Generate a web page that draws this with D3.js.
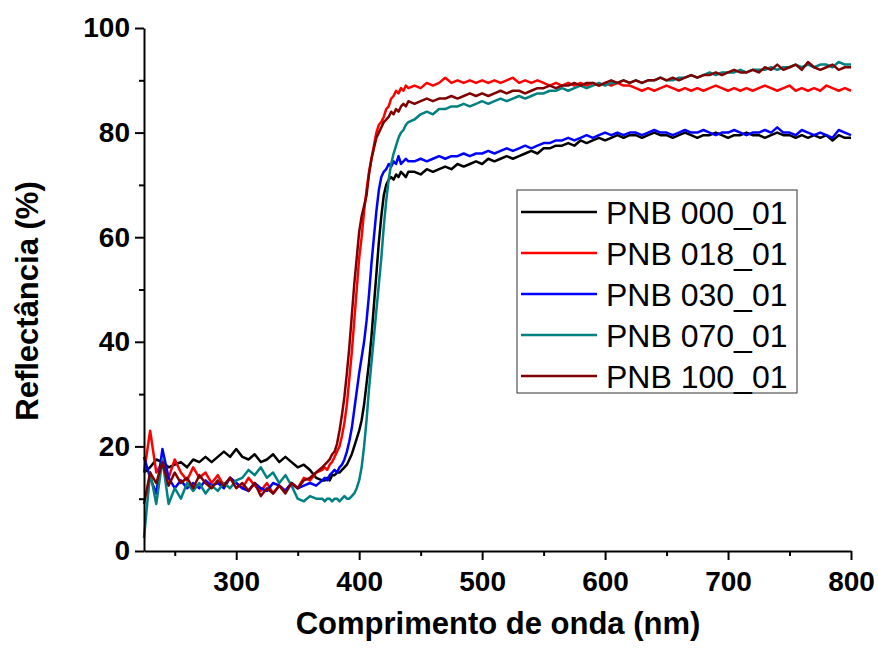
<!DOCTYPE html>
<html lang="pt">
<head>
    <meta charset="UTF-8">
    <script src="https://d3js.org/d3.v7.min.js"></script>
    <style>
        body { margin: 0; background: white; }
        text { font-family: "Liberation Sans", Arial, sans-serif; }
        .axis path, .axis line { stroke: black; stroke-width: 2; }
        .axis text { font-size: 28px; font-weight: bold; fill: black; }
    </style>
</head>
<body>
    <svg id="chart" width="878" height="650"></svg>

    <script>
        // comprimento de onda (nm)
        const wavelengths = [
            225,230,235,240,245,250,255,260,265,270,275,280,285,290,295,300,305,310,315,320,325,330,335,340,345,350,355,360,365,370,
            372,374,376,378,380,382,384,386,388,390,392,394,396,398,400,402,404,406,408,410,412,414,416,418,420,422,424,426,428,430,432,434,436,438,440,
            445,450,455,460,465,470,475,480,485,490,495,500,505,510,515,520,525,530,535,540,545,550,555,560,565,570,575,580,585,590,595,600,
            605,610,615,620,625,630,635,640,645,650,655,660,665,670,675,680,685,690,695,700,705,710,715,720,725,730,735,740,745,750,755,760,
            765,770,775,780,785,790,795,800
        ];

        const pnb000 = [
            15,16,17.5,17,16, 16.5,17,16,17.5,17, 18,17,18,19,18, 19.5,18,17.5,18.5,17, 17.5,18.5,17,18,17, 16,16.5,15.5,14,13.5,
            13.5,14,13.5,14.5,14.5, 15,15,15.5,16,16.5, 17.5,18.5,20,21.5,23, 25,28,32,36,41, 47,53,59,64,68, 70,71,71.5,71,72, 71.5,72.5,72,71.5,72.5,
            72.5,72,73,72.5,73, 73.5,73,74,73.5,74, 74.5,74,75,74.5,75, 75.5,75,75.5,76,76.5, 76,77,77,77.5,77.5, 78,77.5,78.5,78,78.5,
            79,78.5,79,79.5,79, 79.5,79.5,79,79.5,80, 79.5,79.5,79,79.5,80, 79.5,79,79.5,79.5,80, 79.5,79,79.5,79.5,80, 79.5,79.5,79,79.5,80,
            79.5,79.5,79,79.5,79, 79.5,79,79.5,78.5,79.5, 79,79
        ];
        const pnb018 = [
            15,23,15,17,14, 17.5,15,13.5,16,14, 15,13,14.5,12.5,14, 13,12,14,12.5,11.5, 13,11,12.5,11.5,13, 12,14,13.5,15,15.5,
            16,15.5,16.5,17,18, 19,20,22,24.5,28, 33,38,44,50,56, 60,65,69,72.5,75, 77.5,80,81.5,82,83, 84.5,85,86.5,87,88, 87.5,88.5,88,89,88.5,
            89,88.5,89.5,89,89.5, 90.5,89.5,90,89.5,90, 89.5,90,89.5,90,89.5, 90,90.5,89.5,90,89.5, 90,89.5,89,89.5,89, 89.5,89,89.5,89,89.5,
            89,89.5,89,89.5,89, 89,88.5,88,88.5,88, 88.5,89,88.5,88,88.5, 88,88.5,88,88.5,89, 88.5,88,88.5,88,88.5, 88,88.5,89,88.5,88,
            88.5,89,88,88.5,88, 88.5,88,89,88.5,88, 88.5,88
        ];
        const pnb030 = [
            18,14,11,19.5,14, 12,13.5,12,13,12, 13.5,12.5,13,12,14, 13,12,11.5,13,12, 11.5,13,12.5,11.5,13, 12,12.5,13,12.5,13.5,
            14,13.5,14.5,15,15.5, 15,16,16.5,17.5,19, 21,23.5,27,30.5,34, 37,40,44,49,55, 60,65,69,71.5,72.5, 73,74,73.5,74.5,74, 75.5,74,74.5,75,74.5,
            74.5,75,74.5,75,75.5, 75,75.5,75.5,76,75.5, 76,76,76.5,76,76.5, 77,76.5,77,77.5,77, 77.5,78,78,78.5,78.5, 79,78.5,79,79.5,79,
            79.5,80,79.5,80,79.5, 80,80,79.5,80,80.5, 80,80,79.5,80,80.5, 80,80,80.5,80,79.5, 80,80,80.5,80,79.5, 80,80,80.5,80,81,
            80,80,79.5,80.5,80, 79.5,80,79.5,79,80.5, 80,79.5
        ];
        const pnb070 = [
            2.5,15,9,17.5,9, 12,10,13,11.5,13, 11,12.5,11.5,13,12, 13.5,14,15.5,14.5,16, 14,15,13,14.5,12.5, 10,9.5,10.5,10,10,
            9.5,10,10,9.5,10, 10,9.5,10,10.5,10, 10,10.5,11,12,13.5, 16,20,25,31,36, 41,46,51,56,62, 67,71,74,76,77.5, 79,80,80.5,81.5,82,
            82.5,83.5,84,83.5,84.5, 84.5,85,85,85.5,85, 85.5,86,85.5,86,86.5, 86,86.5,87,86.5,87, 87.5,87.5,88,88,88.5, 88,88.5,89,88.5,89,
            89.5,89,89.5,89.5,90, 89.5,90,89.5,90,90, 90.5,90,90,90.5,90.5, 91,90.5,91,91.5,91, 91.5,91.5,91.5,92,91.5, 92,92,92,92.5,92,
            92.5,92.5,93,92.5,93, 92.5,93,93,92.5,93.5, 93,93
        ];
        const pnb100 = [
            9,15,13,17,12.5, 15,13,14,12,14.5, 13,12,13.5,12.5,14, 12,13,11.5,13,10.5, 12,11,12.5,11,13, 12,13.5,14,15,16,
            16.5,17,17.5,18.5,19, 20.5,23,26,29.5,34, 39,45,51,56,61, 64,66,68,72,75, 77,79,80,81,82, 82.5,83,84,83.5,84.5, 84,85,85.5,85,86,
            85.5,86,86.5,86,86.5, 86.5,87,86.5,87,87.5, 87,87.5,87,87.5,88, 87.5,88,88,87.5,88, 88.5,88.5,89,88.5,89, 89,89.5,89,89.5,89.5,
            89,89.5,90,89.5,90, 89.5,90,89.5,90,90, 90.5,90,90.5,90,90.5, 91,90.5,91,91,91.5, 91,91.5,92,91.5,91.5, 92,91.5,92.5,92,93,
            92,92.5,93,92,93.5, 92.5,92,92.5,93,92, 92.5,92.5
        ];

        const seriesNames = ["PNB 000_01", "PNB 018_01", "PNB 030_01", "PNB 070_01", "PNB 100_01"];
        const seriesColors = ["#000000", "#ff0000", "#0000ff", "#008080", "#800000"];
        const seriesValues = [pnb000, pnb018, pnb030, pnb070, pnb100];

        const xTicks = [300, 400, 500, 600, 700, 800];
        const xMinorTicks = [250, 350, 450, 550, 650, 750];
        const yTicks = [0, 20, 40, 60, 80, 100];
        const yMinorTicks = [10, 30, 50, 70, 90];

        const width = 878, height = 650;
        const margin = { top: 28, right: 27, bottom: 99, left: 144 };

        const svg = d3.select("#chart");

        const x = d3.scaleLinear()
            .domain([225, 800])
            .range([margin.left, width - margin.right]);
        const y = d3.scaleLinear()
            .domain([0, 100])
            .range([height - margin.bottom, margin.top]);

        // Curvas (ordem de desenho: preto, vermelho, azul, verde-azulado, vinho)
        const line = d3.line()
            .x(d => x(d[0]))
            .y(d => y(d[1]));

        seriesValues.forEach((vals, i) => {
            const pts = wavelengths.map((w, j) => [w, vals[j]]);
            svg.append("path")
                .datum(pts)
                .attr("fill", "none")
                .attr("stroke", seriesColors[i])
                .attr("stroke-width", 2.5)
                .attr("stroke-linejoin", "round")
                .attr("d", line);
        });

        // Eixos
        svg.append("g")
            .attr("class", "axis")
            .attr("transform", `translate(0,${height - margin.bottom})`)
            .call(d3.axisBottom(x).tickValues(xMinorTicks).tickSize(5).tickFormat(""))
            .select(".domain").remove();
        svg.append("g")
            .attr("class", "axis")
            .attr("transform", `translate(0,${height - margin.bottom})`)
            .call(d3.axisBottom(x).tickValues(xTicks).tickSizeInner(9).tickSizeOuter(0).tickPadding(11));

        svg.append("g")
            .attr("class", "axis")
            .attr("transform", `translate(${margin.left},0)`)
            .call(d3.axisLeft(y).tickValues(yMinorTicks).tickSize(5).tickFormat(""))
            .select(".domain").remove();
        svg.append("g")
            .attr("class", "axis")
            .attr("transform", `translate(${margin.left},0)`)
            .call(d3.axisLeft(y).tickValues(yTicks).tickSizeInner(9).tickSizeOuter(0).tickPadding(5));

        // Títulos dos eixos
        svg.append("text")
            .attr("x", 498)
            .attr("y", 634)
            .attr("text-anchor", "middle")
            .style("font-size", "31px")
            .style("font-weight", "bold")
            .text("Comprimento de onda (nm)");

        svg.append("text")
            .attr("transform", "translate(38,301) rotate(-90)")
            .attr("text-anchor", "middle")
            .style("font-size", "31px")
            .style("font-weight", "bold")
            .text("Reflectância (%)");

        // Legenda
        const legend = svg.append("g").attr("transform", "translate(517,190)");
        legend.append("rect")
            .attr("width", 280)
            .attr("height", 203)
            .attr("fill", "white")
            .attr("stroke", "#333")
            .attr("stroke-width", 1);

        seriesNames.forEach((name, i) => {
            const cy = 22 + i * 41;
            legend.append("line")
                .attr("x1", 4).attr("x2", 80)
                .attr("y1", cy).attr("y2", cy)
                .attr("stroke", seriesColors[i])
                .attr("stroke-width", 2.5);
            legend.append("text")
                .attr("x", 89)
                .attr("y", cy + 12)
                .style("font-size", "32px")
                .text(name);
        });
    </script>
</body>
</html>
